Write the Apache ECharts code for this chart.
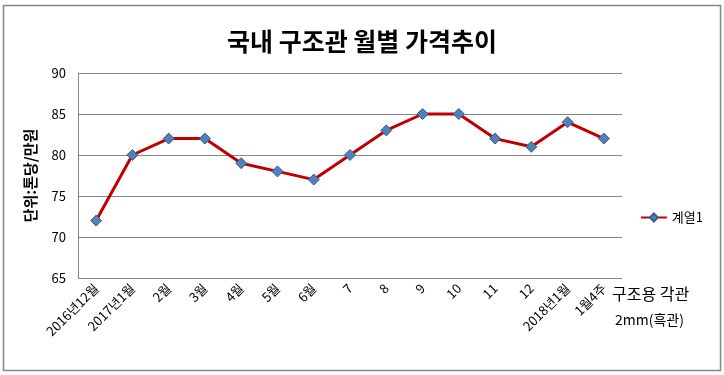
<!DOCTYPE html>
<html><head><meta charset="utf-8">
<script src="https://cdn.jsdelivr.net/npm/echarts@6/dist/echarts.min.js"></script>
<style>html,body{margin:0;padding:0;background:#fff}#c{width:724px;height:375px}</style>
</head><body><div id="c"></div>
<script>
const categories = ['2016년12월','2017년1월','2월','3월','4월','5월','6월','7','8','9','10','11','12','2018년1월','1월4주'];
const values = [72,80,82,82,79,78,77,80,83,85,85,82,81,84,82];
const seriesName = '계열1';
const yTicks = {min:65,max:90,interval:5};
const titleText = '국내 구조관 월별 가격추이';
const yName = '단위:톤당/만원';
const noteLines = ['구조용 각관','2mm(흑관)'];
const FONT = '"Noto Sans CJK KR", "Noto Sans", sans-serif';

const chart = echarts.init(document.getElementById('c'));
chart.setOption({
  animation:false,
  backgroundColor:'#fff',
  title:{text:titleText,left:'center',top:24,textStyle:{fontFamily:FONT,fontSize:25,fontWeight:'bold',color:'#000'}},
  grid:{left:78,right:102,top:73,bottom:97},
  legend:{right:16,top:206,orient:'vertical',itemWidth:26,itemHeight:10,
    textStyle:{fontFamily:FONT,fontSize:13,color:'#000'},data:[seriesName]},
  xAxis:{type:'category',data:categories,boundaryGap:true,
    axisLine:{show:false},axisTick:{show:false},
    axisLabel:{rotate:45,fontFamily:FONT,fontSize:13,color:'#000',margin:8,interval:0}},
  yAxis:{type:'value',min:yTicks.min,max:yTicks.max,interval:yTicks.interval,
    name:yName,nameLocation:'middle',nameGap:40,nameRotate:90,
    nameTextStyle:{fontFamily:FONT,fontSize:15,fontWeight:'bold',color:'#000'},
    axisLine:{show:true,lineStyle:{color:'#868686',width:1}},axisTick:{show:false},
    axisLabel:{fontFamily:FONT,fontSize:13,color:'#000',margin:12},
    splitLine:{lineStyle:{color:'#868686',width:1}}},
  series:[{name:seriesName,type:'line',data:values,symbol:'diamond',symbolSize:11,
    lineStyle:{color:'#C00000',width:3},
    itemStyle:{color:'#4F81BD',borderColor:'#385D8A',borderWidth:1}}],
  graphic:[
    {type:'rect',shape:{x:3.5,y:5.5,width:717,height:365},style:{fill:'none',stroke:'#868686',lineWidth:1.5},silent:true},
    {type:'text',left:612,top:286,style:{text:noteLines[0],font:'16px '+FONT,fill:'#000'}},
    {type:'text',left:615,top:313,style:{text:noteLines[1],font:'14px '+FONT,fill:'#000'}}
  ]
});
</script></body></html>
